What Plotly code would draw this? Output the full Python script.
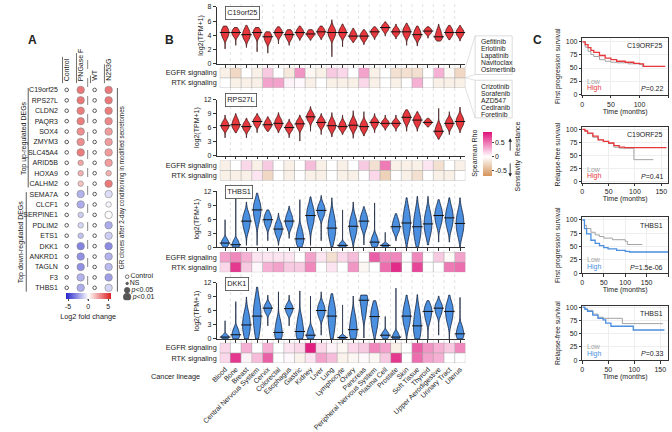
import plotly.graph_objects as go

W, H = 672, 432
FONT = "Liberation Sans, Arial, sans-serif"


def X(p):
    return p / W


def Y(p):
    return 1 - p / H


# ---------------- Panel A data ----------------
genes_A = ['C19orf25', 'RPS27L', 'CLDN2', 'PAQR3', 'SOX4', 'ZMYM3', 'SLC45A4', 'ARID5B', 'HOXA9', 'CALHM2',
           'SEMA7A', 'CLCF1', 'SERPINE1', 'PDLIM2', 'ETS1', 'DKK1', 'ANKRD1', 'TAGLN', 'F3', 'THBS1']
cols_A = ['Control', 'PNGase F', 'WT', 'N253G']
fc_pngase = [4.8, 4.8, 4.6, 4.6, 4.0, 4.0, 4.6, 3.2, 2.8, 2.2, -2.8, -3.0, -1.8, -1.5, -2.2, -4.5, -4.0, -4.0, -2.8, -3.0]
sig_pngase = [2, 2, 2, 2, 2, 2, 2, 1, 1, 1, 2, 2, 1, 1, 1, 2, 2, 2, 2, 2]
fc_n253g = [4.8, 4.8, 4.6, 4.2, 3.5, 3.5, 3.5, 3.5, 2.8, 4.8, -1.2, -0.3, 0.1, -3.0, -1.8, -4.2, -2.8, -2.5, -3.5, -1.5]
sig_n253g = [2, 2, 2, 2, 2, 2, 2, 2, 1, 2, 2, 1, 2, 2, 2, 2, 2, 2, 2, 2]
legend_labels_A = ['Control', 'NS', '<i>p</i>&lt;0.05', '<i>p</i>&lt;0.01']
group_labels_A = ['Top up-regulated DEGs', 'Top down-regulated DEGs']
group_sizes_A = [10, 10]

# ---------------- Panel B data ----------------
lineages = ['Blood', 'Bone', 'Breast', 'Central Nervous System', 'Cervix', 'Colorectal', 'Esophagus', 'Gastric',
            'Kidney', 'Liver', 'Lung', 'Lymphocyte', 'Ovary', 'Pancreas', 'Peripheral Nervous System',
            'Plasma Cell', 'Prostate', 'Skin', 'Soft Tissue', 'Thyroid', 'Upper Aerodigestive', 'Urinary Tract',
            'Uterus']
genes_B = ['C19orf25', 'RPS27L', 'THBS1', 'DKK1']

# per lineage: min, q1, median, q3, max of log2(TPM+1)
c19orf25_q = [[2.1, 3.8, 4.4, 4.9, 5.3], [2.6, 4.0, 4.4, 4.8, 5.1], [2.3, 3.6, 4.1, 4.7, 5.4], [1.7, 3.9, 4.4, 4.8, 5.1],
              [1.5, 3.2, 3.8, 4.2, 4.5], [2.8, 4.0, 4.4, 4.8, 5.2], [2.6, 3.6, 4.1, 4.5, 4.8], [3.3, 4.0, 4.4, 4.8, 5.3],
              [3.3, 3.9, 4.2, 4.6, 4.8], [3.4, 4.1, 4.5, 4.9, 5.3], [1.0, 3.8, 4.4, 4.9, 6.2], [2.4, 4.0, 4.4, 4.9, 5.6],
              [3.0, 3.6, 3.9, 4.4, 5.0], [2.7, 3.5, 3.9, 4.3, 4.8], [3.4, 4.1, 4.5, 4.8, 5.2], [3.9, 4.7, 5.1, 5.4, 5.9],
              [3.5, 4.2, 4.5, 4.9, 5.6], [2.6, 4.0, 4.5, 5.0, 5.7], [2.5, 3.7, 4.1, 4.7, 5.3], [3.6, 4.3, 4.6, 4.9, 5.2],
              [3.2, 3.6, 3.8, 4.6, 5.6], [3.4, 4.0, 4.4, 4.9, 5.4], [3.2, 4.0, 4.4, 4.8, 5.4]]
rps27l_q = [[3.8, 5.8, 6.4, 7.1, 8.7], [4.9, 6.0, 6.6, 7.6, 9.0], [3.8, 5.6, 6.2, 6.9, 8.0], [4.9, 6.6, 7.3, 7.9, 9.0],
            [5.2, 6.0, 6.6, 7.3, 8.3], [4.9, 6.2, 6.9, 7.7, 9.2], [3.8, 5.4, 6.0, 6.6, 7.8], [3.1, 6.0, 6.8, 7.4, 8.7],
            [5.2, 7.6, 8.3, 9.0, 10.5], [4.5, 6.4, 7.1, 7.7, 9.0], [4.0, 5.7, 6.4, 7.3, 9.2], [4.5, 5.7, 6.2, 7.0, 8.7],
            [3.7, 5.8, 6.5, 7.4, 9.6], [4.2, 5.5, 6.2, 7.0, 9.4], [4.9, 6.4, 7.1, 7.6, 9.0], [5.4, 6.4, 6.9, 7.4, 8.7],
            [5.2, 6.4, 6.9, 7.4, 8.7], [5.2, 7.3, 8.2, 8.9, 9.8], [5.2, 6.8, 7.6, 8.3, 9.4], [6.1, 6.7, 7.1, 7.5, 8.0],
            [3.5, 4.7, 5.2, 6.3, 10.1], [4.5, 6.2, 6.9, 7.6, 9.4], [4.9, 6.5, 7.3, 8.2, 10.4]]
thbs1_q = [[0.0, 0.4, 0.9, 1.6, 5.9], [0.0, 0.2, 0.55, 1.4, 11.8], [0.4, 4.0, 5.6, 6.8, 9.7], [0.4, 6.0, 8.0, 9.3, 11.6],
           [1.4, 4.8, 5.9, 6.9, 8.0], [0.4, 2.8, 3.9, 5.0, 7.3], [1.9, 4.6, 5.6, 6.8, 8.8], [0.0, 0.8, 1.8, 3.5, 10.2],
           [0.4, 5.0, 6.8, 8.3, 10.8], [1.4, 6.8, 7.9, 8.9, 11.1], [0.1, 2.2, 4.1, 6.2, 10.6], [0.0, 0.1, 0.4, 0.9, 8.0],
           [0.0, 2.8, 4.5, 6.0, 9.7], [0.5, 4.3, 5.6, 6.8, 8.7], [0.0, 0.5, 1.1, 2.2, 9.5], [0.0, 0.15, 0.4, 0.7, 3.2],
           [1.4, 3.6, 4.4, 5.8, 7.2], [0.0, 3.2, 5.2, 7.5, 10.6], [0.0, 2.2, 4.4, 6.8, 10.9], [0.5, 3.2, 5.0, 7.0, 10.9],
           [1.1, 5.2, 6.8, 8.2, 10.2], [1.1, 4.6, 6.3, 8.0, 10.6], [0.0, 3.2, 5.1, 7.0, 10.6]]
dkk1_q = [[0.0, 0.1, 0.4, 0.8, 3.9], [0.0, 0.3, 0.9, 2.0, 8.0], [0.0, 1.2, 3.0, 5.0, 9.0], [0.0, 2.0, 4.9, 7.4, 11.1],
          [2.8, 5.8, 6.6, 7.3, 9.4], [0.0, 0.5, 1.4, 3.5, 10.1], [2.8, 5.6, 6.5, 7.2, 9.4], [0.0, 0.6, 1.6, 4.0, 10.3],
          [0.0, 0.3, 0.8, 2.0, 9.2], [0.8, 5.0, 6.1, 7.2, 10.1], [0.0, 2.0, 4.9, 6.8, 9.7], [0.0, 0.05, 0.3, 0.6, 7.3],
          [0.0, 0.8, 2.0, 4.5, 9.2], [0.2, 5.5, 8.3, 8.8, 9.4], [0.0, 2.5, 4.8, 6.3, 8.2], [0.0, 0.3, 0.8, 1.4, 4.8],
          [0.0, 0.1, 0.4, 1.2, 10.9], [0.0, 3.2, 4.9, 6.8, 9.4], [0.0, 1.0, 2.8, 5.5, 9.5], [0.0, 4.2, 5.9, 6.8, 8.2],
          [0.8, 5.4, 6.6, 7.4, 9.2], [0.0, 4.0, 5.9, 7.2, 9.4], [0.0, 0.4, 1.1, 2.5, 8.9]]

# Spearman rho (rows: EGFR signaling, RTK signaling)
c19orf25_egfr = [-0.1, -0.25, 0, -0.1, 0.2, 0, -0.15, 0.4, -0.05, -0.1, 0.2, 0.15, 0.0, 0.35, -0.1, 0, -0.2, -0.2, -0.2, 0, 0.3, -0.05, -0.25]
c19orf25_rtk = [0, -0.1, -0.1, -0.1, 0.35, 0.35, 0.05, 0.03, -0.1, 0, -0.1, -0.1, -0.1, 0.15, -0.1, 0, -0.1, 0, 0.3, 0, -0.1, -0.1, -0.1]
rps27l_egfr = [-0.1, 0, 0.15, -0.1, 0.2, 0, -0.1, 0, 0.25, -0.1, 0, -0.1, 0, 0.2, -0.2, 0.5, -0.1, -0.1, -0.1, 0.1, -0.2, 0, -0.1]
rps27l_rtk = [-0.1, -0.1, -0.1, 0.1, -0.25, 0, -0.1, 0, -0.1, -0.1, 0, -0.1, -0.1, 0, 0.15, -0.3, 0, -0.1, -0.2, 0, -0.1, -0.1, 0]
thbs1_egfr = [0.35, 0.45, 0.3, 0.1, 0.1, 0.1, 0.1, 0, 0.35, 0.1, -0.2, 0.15, 0.25, 0, 0.6, 0.45, 0.45, 0, 0.45, 0, 0.2, -0.03, 0.35]
thbs1_rtk = [0.15, 0.75, 0.2, 0.03, 0.3, 0.35, 0.2, 0.2, 0.45, 0, 0.1, 0, 0.4, -0.05, 0, 0.55, 0.8, 0, 0.7, 0, 0, 0.5, 0.55]
dkk1_egfr = [0.15, 0, 0.3, 0, 0.3, 0, 0.1, 0.15, 0.85, 0.15, 0.05, -0.05, 0.15, 0.2, 0.45, 0.35, -0.1, 0, 0.6, 0.4, 0.3, 0.2, 0.45]
dkk1_rtk = [0.15, 0.75, 0.05, 0.25, 0.6, 0, 0.03, -0.08, 0.1, 0.35, 0.25, -0.08, -0.05, 0.02, -0.05, 0.2, 0.75, 0, 0.55, 0.35, 0.3, 0, 0]
heat_rows = ['EGFR signaling', 'RTK signaling']
egfr_drugs = ['Gefitinib', 'Erlotinib', 'Lapatinib', 'Navitoclax', 'Osimertinib']
rtk_drugs = ['Crizotinib', 'Sorafenib', 'AZD547', 'Cediranib', 'Foretinib']

# ---------------- Panel C data (survival, %) ----------------
km_genes = ['C19ORF25', 'C19ORF25', 'THBS1', 'THBS1']
km_ytitles = ['First progression survival', 'Relapse-free survival', 'First progression survival', 'Relapse-free survival']
km_pvals = ['0.22', '0.41', '1.5e-06', '0.33']
km1_low_t = [0, 5, 10, 15, 20, 30, 40, 50, 60, 80, 100, 105, 145]
km1_low_s = [100, 90, 82, 76, 72, 66, 63, 61, 60, 58, 57, 53, 53]
km1_high_t = [0, 5, 10, 15, 20, 30, 40, 50, 60, 75, 90, 100, 107, 145]
km1_high_s = [100, 95, 89, 84, 80, 74, 69, 66, 63, 61, 59, 58, 53, 53]
km2_low_t = [0, 5, 10, 20, 30, 40, 50, 60, 70, 97, 98, 135]
km2_low_s = [100, 97, 92, 85, 80, 77, 73, 66, 64, 64, 42, 42]
km2_high_t = [0, 5, 10, 20, 30, 40, 50, 60, 70, 80, 160]
km2_high_s = [100, 97, 93, 87, 80, 77, 74, 69, 66, 65, 65]
km3_low_t = [0, 5, 10, 20, 30, 40, 50, 70, 100, 105, 140]
km3_low_s = [100, 90, 84, 77, 72, 69, 66, 63, 60, 54, 54]
km3_high_t = [0, 5, 10, 20, 30, 40, 50, 60, 80, 100, 110, 200]
km3_high_s = [100, 84, 74, 62, 56, 52, 48, 46, 43, 41, 40, 40]
km4_low_t = [0, 5, 10, 20, 30, 40, 77, 155]
km4_low_s = [100, 97, 94, 87, 81, 79, 69, 69]
km4_high_t = [0, 5, 10, 20, 30, 40, 45, 55, 98, 158]
km4_high_s = [100, 96, 92, 85, 79, 76, 70, 64, 57, 57]
km_xmax = [150, 163, 200, 165]
km_yrange = [[-1.3, 108], [-2, 105.5], [0, 105], [0, 102]]

RED = '#e8383d'
BLUE = '#4a8fe0'
GREY = '#a3a3a3'
AX = '#333333'

fig = go.Figure()
shapes = []
annos = []


def txt(x, y, text, size=7, xa='center', ya='middle', angle=0, color='#222', **kw):
    annos.append(dict(x=x, y=y, xref='paper', yref='paper', text=text, showarrow=False, xanchor=xa, yanchor=ya,
                      textangle=angle, font=dict(size=size, color=color, family=FONT), **kw))


def line(x0, y0, x1, y1, color='#444', width=0.8, dash='solid', xref='paper', yref='paper', layer='above'):
    shapes.append(dict(type='line', x0=x0, y0=y0, x1=x1, y1=y1, xref=xref, yref=yref, layer=layer,
                       line=dict(color=color, width=width, dash=dash)))


# ====================== Panel A ======================
nA = len(genes_A)
rowsA = list(range(nA))
dot_size = {0: 2.5, 1: 5.5, 2: 7.5}
for ci, col in enumerate(cols_A):
    if col in ('Control', 'WT'):
        fig.add_trace(go.Scatter(x=[ci] * nA, y=rowsA, mode='markers', hoverinfo='skip',
                                 marker=dict(symbol='circle-open', size=3.6, color='#333', line=dict(width=0.8)),
                                 xaxis='x', yaxis='y'))
for col, fc, sig in [('PNGase F', fc_pngase, sig_pngase), ('N253G', fc_n253g, sig_n253g)]:
    ci = cols_A.index(col)
    fig.add_trace(go.Scatter(x=[ci] * nA, y=rowsA, mode='markers', hoverinfo='skip',
                             marker=dict(size=[dot_size[s] for s in sig], color=fc, coloraxis='coloraxis2',
                                         line=dict(width=0.6, color='#555')),
                             xaxis='x', yaxis='y'))
# size legend
fig.add_trace(go.Scatter(x=[0] * 4, y=list(range(4)), mode='markers+text', text=legend_labels_A,
                         textposition='middle right', textfont=dict(size=7, family=FONT, color='#222'),
                         marker=dict(symbol=['circle-open', 'circle', 'circle', 'circle'], size=[3.6, 2.5, 5.5, 7.5],
                                     color='#111', line=dict(width=0.8, color='#111')),
                         hoverinfo='skip', xaxis='x2', yaxis='y2'))

xA_dom = (44, 101)
colpx = 14.33
rowpx = 10.79
xA_range = [(xA_dom[0] - 51) / colpx, (xA_dom[1] - 51) / colpx]
yA_dom = (83, 300)
yA_range = [(yA_dom[1] - 89) / rowpx, (yA_dom[0] - 89) / rowpx]

for ci, col in enumerate(cols_A):
    annos.append(dict(x=ci, y=Y(82), xref='x', yref='paper', text=col, showarrow=False, textangle=-90,
                      xanchor='center', yanchor='bottom', font=dict(size=7, family=FONT, color='#222')))
    shapes.append(dict(type='line', xref='x', yref='paper', x0=ci - 0.3, x1=ci - 0.3, y0=Y(82),
                       y1=Y(82 - 3.9 * len(col)), line=dict(color='#333', width=0.7)))
# dashed divider between PNGase F and WT
shapes.append(dict(type='line', xref='x', yref='paper', x0=1.5, x1=1.5, y0=Y(58), y1=Y(307),
                   line=dict(color='#555', width=0.7, dash='dash')))
# group brackets
start = 0
for gi, (gl, gs) in enumerate(zip(group_labels_A, group_sizes_A)):
    top = 89 + start * rowpx - 2
    bot = 89 + (start + gs - 1) * rowpx + 4
    lx = 11.5 if gi == 0 else 9.5
    line(X(lx), Y(top), X(lx), Y(bot), color='#333', width=0.8)
    txt(X(lx - 5), Y((top + bot) / 2), gl, size=7, angle=-90)
    start += gs
line(X(103), Y(87), X(103), Y(298), color='#333', width=0.8)
txt(X(108.5), Y(190), 'GR clones after 2-day conditioning in modified secretomes', size=6.3, angle=-90)

# ====================== Panel B ======================
vdom = [(3, 62), (99, 157), (194, 252), (289, 347)]
hdom = [(66, 87), (162, 183), (257, 278), (351, 372)]
vq = [c19orf25_q, rps27l_q, thbs1_q, dkk1_q]
hz = [[c19orf25_egfr, c19orf25_rtk], [rps27l_egfr, rps27l_rtk], [thbs1_egfr, thbs1_rtk], [dkk1_egfr, dkk1_rtk]]
vfill = [RED, RED, BLUE, BLUE]
vline = ['#3a1515', '#3a1515', '#15233d', '#15233d']
yr = [[0, 8], [0, 12], [0, 12], [0, 12]]
ytk = [[0, 2, 4, 6, 8], [0, 3, 6, 9, 12], [0, 3, 6, 9, 12], [0, 3, 6, 9, 12]]
box_top = [2, 92, 188, 283]
nL = len(lineages)
idx = list(range(nL))
cat_px = (460 - 208) / nL
xv_range = [-0.5 - 3 / cat_px, nL - 0.5]

for k in range(4):
    for i, q in enumerate(vq[k]):
        lo, q1, med, q3, hi = q
        bw = max(0.42 * (q3 - q1), 0.12)
        fig.add_trace(go.Violin(x=[i, i, i], y=[q1, med, q3], width=0.72, scalemode='width', spanmode='manual',
                                span=[lo, hi], bandwidth=bw, points=False, fillcolor=vfill[k],
                                line=dict(color=vline[k], width=0.8), opacity=1, hoverinfo='skip',
                                xaxis='x%d' % (3 + k), yaxis='y%d' % (3 + k)))
    fig.add_trace(go.Scatter(x=idx, y=[q[2] for q in vq[k]], mode='markers', hoverinfo='skip',
                             marker=dict(symbol='line-ew', size=7.5, line=dict(width=1.0, color='#111')),
                             xaxis='x%d' % (3 + k), yaxis='y%d' % (3 + k)))
    fig.add_trace(go.Heatmap(z=hz[k], x=idx, y=[0, 1], coloraxis='coloraxis', hoverinfo='skip',
                             xaxis='x%d' % (7 + k), yaxis='y%d' % (7 + k)))
    # gene label box
    annos.append(dict(x=X(213), y=Y(box_top[k]), xref='paper', yref='paper', text=genes_B[k], showarrow=False,
                      xanchor='left', yanchor='top', bordercolor='#444', borderwidth=0.8, borderpad=1.5,
                      bgcolor='white', font=dict(size=7.3, family=FONT, color='#222')))
    # heatmap cell borders
    hx, hy = 'x%d' % (7 + k), 'y%d' % (7 + k)
    shapes.append(dict(type='rect', xref=hx, yref=hy, x0=-0.5, x1=nL - 0.5, y0=-0.5, y1=1.5,
                       line=dict(color='#aaaaaa', width=0.6), layer='above'))
    shapes.append(dict(type='line', xref=hx, yref=hy, x0=-0.5, x1=nL - 0.5, y0=0.5, y1=0.5,
                       line=dict(color='#aaaaaa', width=0.6), layer='above'))
    for i in range(nL - 1):
        shapes.append(dict(type='line', xref=hx, yref=hy, x0=i + 0.5, x1=i + 0.5, y0=-0.5, y1=1.5,
                           line=dict(color='#aaaaaa', width=0.6), layer='above'))

# dotted category guides through panel B
for i in range(nL - 1):
    shapes.append(dict(type='line', xref='x7', yref='paper', x0=i + 0.5, x1=i + 0.5, y0=Y(0), y1=Y(372),
                       line=dict(color='#cfcfcf', width=0.6, dash='dot'), layer='below'))

txt(X(190), Y(386), 'Cancer lineage', size=7.3, xa='right')

# drug boxes
for drugs, top, bot, hrow in [(egfr_drugs, 33, 73, (66, 76.5)), (rtk_drugs, 79, 118, (76.5, 87))]:
    shapes.append(dict(type='rect', xref='paper', yref='paper', x0=X(470), x1=X(508), y0=Y(top), y1=Y(bot),
                       line=dict(color='#cccccc', width=0.7)))
    line(X(460), Y(hrow[0]), X(470), Y(top), color='#cccccc', width=0.6)
    line(X(460), Y(hrow[1]), X(470), Y(bot), color='#cccccc', width=0.6)
    for j, d in enumerate(drugs):
        txt(X(473.5), Y(top + 6 + j * 7.3), d, size=6.8, xa='left')

txt(X(470), Y(155), 'Spearman Rho', size=7, angle=-90)
for tip, off in [(139, 14), (179, -15)]:
    annos.append(dict(x=X(506), y=Y(tip), ax=0, ay=off, xref='paper', yref='paper', axref='pixel',
                      ayref='pixel', text='', showarrow=True, arrowhead=2, arrowsize=0.9, arrowwidth=0.8,
                      arrowcolor='#222'))
txt(X(514), Y(158), 'Sensitivity  Resistance', size=7, angle=-90)

# ====================== Panel C ======================
kmd = [(35, 94), (127, 185), (221, 279), (313, 369)]
km_low = [(km1_low_t, km1_low_s), (km2_low_t, km2_low_s), (km3_low_t, km3_low_s), (km4_low_t, km4_low_s)]
km_high = [(km1_high_t, km1_high_s), (km2_high_t, km2_high_s), (km3_high_t, km3_high_s), (km4_high_t, km4_high_s)]
km_col = [RED, RED, BLUE, BLUE]
for k in range(4):
    xa, ya = 'x%d' % (11 + k), 'y%d' % (11 + k)
    fig.add_trace(go.Scatter(x=km_low[k][0], y=km_low[k][1], mode='lines', line=dict(shape='hv', color=GREY, width=1.0),
                             hoverinfo='skip', xaxis=xa, yaxis=ya))
    fig.add_trace(go.Scatter(x=km_high[k][0], y=km_high[k][1], mode='lines',
                             line=dict(shape='hv', color=km_col[k], width=1.3), hoverinfo='skip', xaxis=xa, yaxis=ya))
    t, b = kmd[k]
    txt(X(665), Y(t + 8), km_genes[k], size=7, xa='right')
    txt(X(583), Y(b - 14), 'Low', size=7, xa='left', color=GREY)
    txt(X(583), Y(b - 6.5), 'High', size=7, xa='left', color=km_col[k])
    txt(X(665), Y(b - 6.5), '<i>P</i>=' + km_pvals[k], size=7, xa='right')

# panel letters
txt(X(16), Y(37), '<b>A</b>', size=12)
txt(X(156), Y(37), '<b>B</b>', size=12)
txt(X(534), Y(37), '<b>C</b>', size=12)

# ====================== Layout ======================
tickf = dict(size=7, family=FONT, color='#222')
lay = dict(
    width=W, height=H, margin=dict(l=0, r=0, t=0, b=0), paper_bgcolor='white', plot_bgcolor='rgba(0,0,0,0)',
    showlegend=False, font=dict(family=FONT, size=7, color='#222'), violinmode='overlay',
    xaxis=dict(domain=[X(xA_dom[0]), X(xA_dom[1])], range=xA_range, visible=False),
    yaxis=dict(domain=[Y(yA_dom[1]), Y(yA_dom[0])], range=yA_range, tickvals=rowsA, ticktext=genes_A, ticks='',
               showgrid=False, zeroline=False, showline=False, tickfont=dict(size=7, family=FONT, color='#222'),
               anchor='x', ticklabelstandoff=1),
    xaxis2=dict(domain=[X(108), X(145)], range=[-1, 6.4], visible=False, anchor='y2'),
    yaxis2=dict(domain=[Y(307), Y(279)], range=[3.5, -0.5], visible=False, anchor='x2'),
    coloraxis2=dict(colorscale=[[0, '#2424cc'], [0.5, '#ffffff'], [1, '#dd1f1f']], cmin=-5.6, cmax=5.6,
                    colorbar=dict(orientation='h', x=X(73), xanchor='center', y=Y(299.5), yanchor='top',
                                  len=46 / W, lenmode='fraction', thickness=6, xpad=0, ypad=0,
                                  tickvals=[-5, 0, 5], ticktext=['-5', '0', '5'], ticks='outside', ticklen=2,
                                  tickfont=tickf, outlinewidth=0,
                                  title=dict(text='Log2 fold change', side='bottom',
                                             font=dict(size=7.3, family=FONT, color='#222')))),
    coloraxis=dict(colorscale=[[0, '#d4935a'], [0.4375, '#ffffff'], [1, '#e0117a']], cmin=-0.7, cmax=0.9,
                   colorbar=dict(x=X(478), xanchor='left', y=Y(155), yanchor='middle', len=46 / H,
                                 lenmode='fraction', thickness=9, xpad=0, ypad=0, tickvals=[-0.5, 0, 0.5],
                                 ticktext=['-0.5', '0', '0.5'], ticks='outside', ticklen=2, tickfont=tickf,
                                 outlinewidth=0)),
    shapes=shapes, annotations=annos,
)
for k in range(4):
    v0, v1 = vdom[k]
    h0, h1 = hdom[k]
    lay['xaxis%d' % (3 + k)] = dict(domain=[X(205), X(460)], range=xv_range, anchor='y%d' % (3 + k),
                                    tickvals=idx, showticklabels=False, ticks='outside', ticklen=3, tickwidth=0.8,
                                    tickcolor=AX, showline=True, linecolor=AX, linewidth=0.8, showgrid=False,
                                    zeroline=False)
    lay['yaxis%d' % (3 + k)] = dict(domain=[Y(v1), Y(v0)], range=yr[k], anchor='x%d' % (3 + k), tickvals=ytk[k],
                                    ticks='outside', ticklen=3, tickwidth=0.8, tickcolor=AX, showline=True,
                                    linecolor=AX, linewidth=0.8, showgrid=False, zeroline=False, tickfont=tickf,
                                    title=dict(text='log2(TPM+1)', font=dict(size=7, family=FONT, color='#222'),
                                               standoff=3))
    lay['xaxis%d' % (7 + k)] = dict(domain=[X(208), X(460)], range=[-0.5, nL - 0.5], anchor='y%d' % (7 + k),
                                    tickvals=idx, ticktext=lineages, showticklabels=(k == 3), tickangle=-45,
                                    ticks='', tickfont=tickf, showgrid=False, zeroline=False, showline=False)
    lay['yaxis%d' % (7 + k)] = dict(domain=[Y(h1), Y(h0)], range=[1.5, -0.5], anchor='x%d' % (7 + k),
                                    tickvals=[0, 1], ticktext=heat_rows, ticks='', showgrid=False, zeroline=False,
                                    tickfont=dict(size=7.3, family=FONT, color='#222'), ticklabelstandoff=2)
    t, b = kmd[k]
    lay['xaxis%d' % (11 + k)] = dict(domain=[X(580), X(668)], range=[0, km_xmax[k]], anchor='y%d' % (11 + k),
                                     dtick=50, tick0=0, ticks='outside', ticklen=2.5, tickwidth=0.8, tickcolor=AX,
                                     showline=True, mirror=True, linecolor=AX, linewidth=0.8, tickfont=tickf,
                                     showgrid=True, gridcolor='#eeeeee', gridwidth=0.5, zeroline=False,
                                     title=dict(text='Time (months)', font=dict(size=7, family=FONT, color='#222'),
                                                standoff=1))
    lay['yaxis%d' % (11 + k)] = dict(domain=[Y(b), Y(t)], range=km_yrange[k], anchor='x%d' % (11 + k),
                                     tickvals=[0, 25, 50, 75, 100], ticks='outside', ticklen=2.5, tickwidth=0.8,
                                     tickcolor=AX, showline=True, mirror=True, linecolor=AX, linewidth=0.8,
                                     tickfont=tickf, showgrid=True, gridcolor='#eeeeee', gridwidth=0.5,
                                     zeroline=False,
                                     title=dict(text=km_ytitles[k], font=dict(size=6.8, family=FONT, color='#222'),
                                                standoff=4))

fig.update_layout(**lay)
fig.write_html("out.html", include_plotlyjs=True, full_html=True, config={'displayModeBar': False},
               post_script="document.body.style.margin='0';document.body.style.overflow='hidden';")
